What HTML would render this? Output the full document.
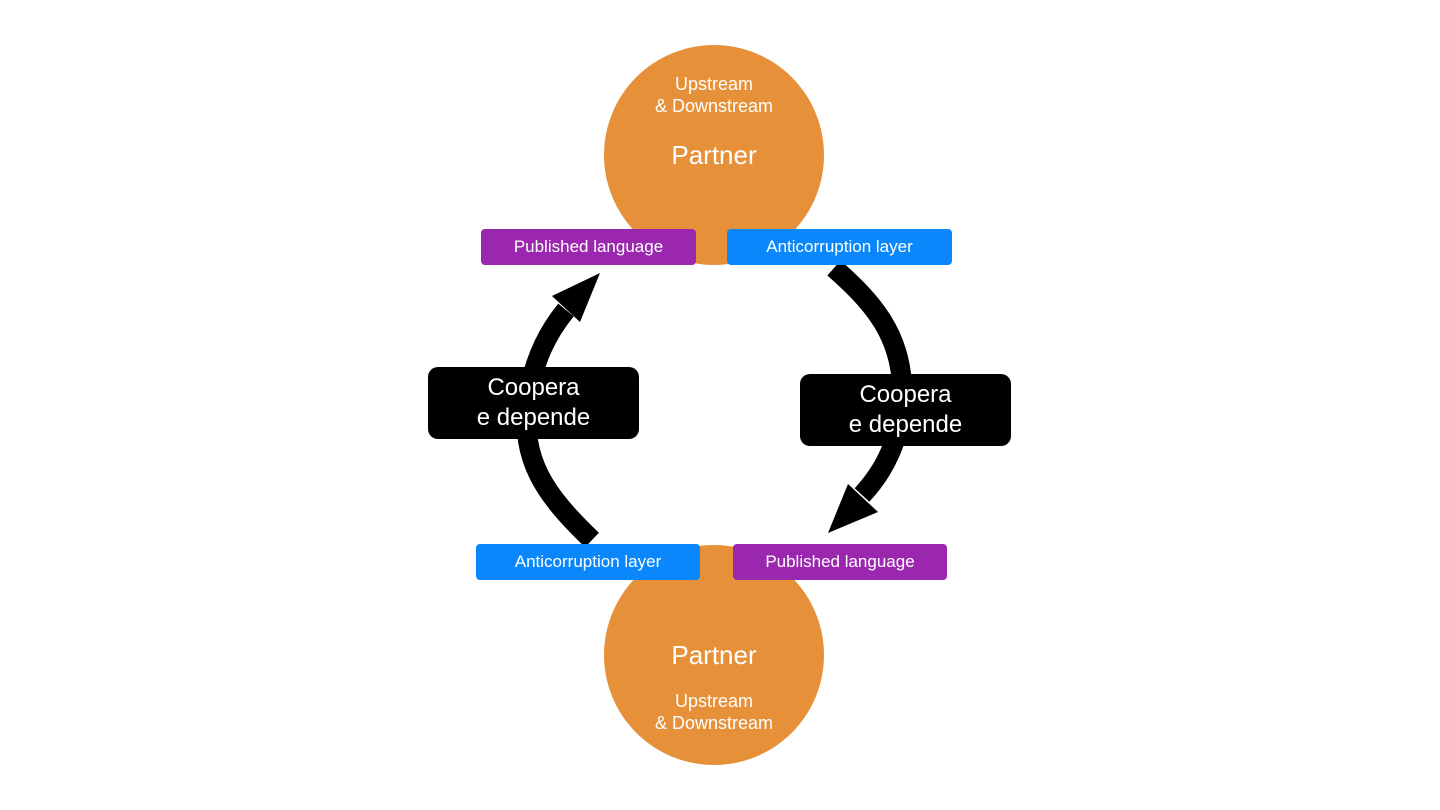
<!DOCTYPE html>
<html><head><style>
body{margin:0;width:1440px;height:810px;background:#fff;position:relative;overflow:hidden;font-family:"Liberation Sans",sans-serif}
.c{position:absolute;width:220px;height:220px;border-radius:50%;background:#e6913a;left:604px;color:#fff;text-align:center}
.t{position:absolute;left:0;right:0}
.l{position:absolute;height:36px;line-height:36px;border-radius:4px;color:#fff;font-size:17px;text-align:center}
.p{background:#9b27af}.b{background:#0a87fb}
.k{position:absolute;width:211px;height:72px;background:#000;border-radius:10px;color:#fff;font-size:24px;line-height:30px;text-align:center;display:flex;align-items:center;justify-content:center}
</style></head><body>
<div class="c" style="top:45px">
<div class="t" style="top:28px;font-size:18px;line-height:22px">Upstream<br>&amp; Downstream</div>
<div class="t" style="top:95px;font-size:26px">Partner</div></div>
<div class="c" style="top:545px">
<div class="t" style="top:95px;font-size:26px">Partner</div>
<div class="t" style="top:145px;font-size:18px;line-height:22px">Upstream<br>&amp; Downstream</div></div>
<svg width="1440" height="810" style="position:absolute;left:0;top:0">
<path d="M592,540 C545,495 520,460 528,400 C533,360 548,332 566,310" fill="none" stroke="#000" stroke-width="20"/>
<polygon points="600,273 552,296 580,322" fill="#000"/>
<path d="M834,268 C870,300 905,335 902,400 C900,440 885,470 862,495" fill="none" stroke="#000" stroke-width="20"/>
<polygon points="828,533 848,484 878,512" fill="#000"/>
</svg>
<div class="l p" style="left:481px;top:229px;width:215px">Published language</div>
<div class="l b" style="left:727px;top:229px;width:225px">Anticorruption layer</div>
<div class="l b" style="left:476px;top:544px;width:224px">Anticorruption layer</div>
<div class="l p" style="left:733px;top:544px;width:214px">Published language</div>
<div class="k" style="left:428px;top:367px">Coopera<br>e depende</div>
<div class="k" style="left:800px;top:374px">Coopera<br>e depende</div>
</body></html>
